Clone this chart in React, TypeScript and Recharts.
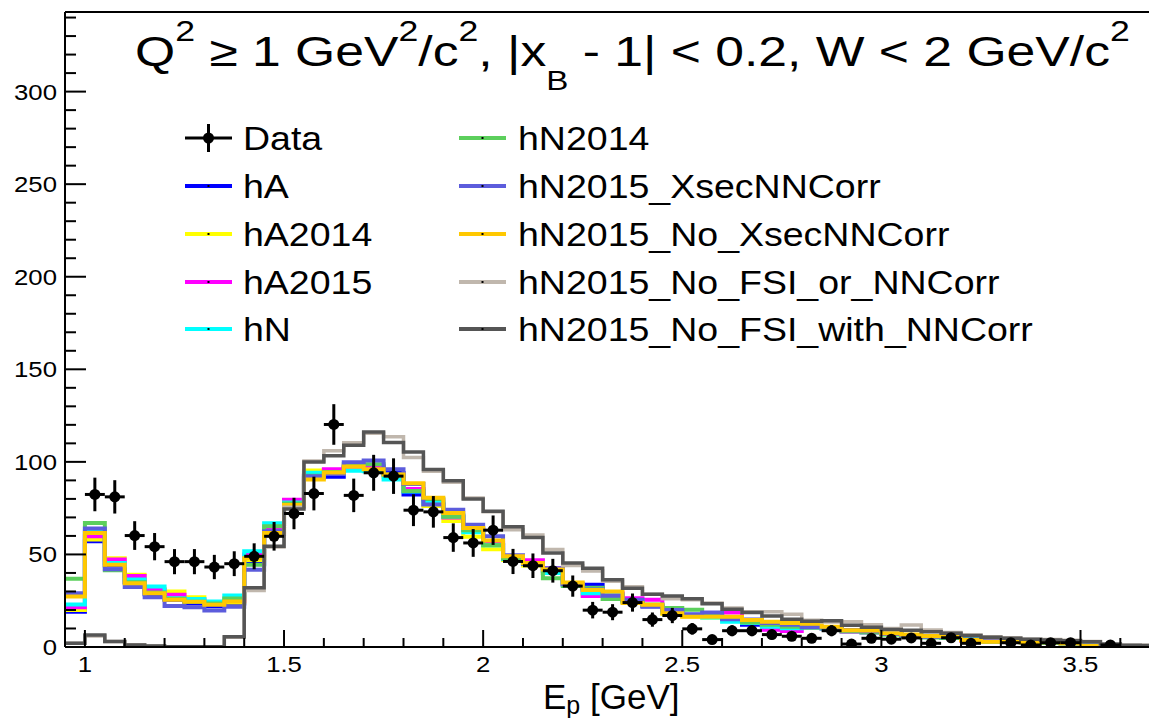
import React from 'react';
import {
  ComposedChart,
  ErrorBar,
  Legend,
  Line,
  ReferenceLine,
  Scatter,
  XAxis,
  YAxis,
} from 'recharts';

const FONT = '"Liberation Sans", Arial, Helvetica, sans-serif';
const TEXT_STRETCH = 1.12;

// 0.05 GeV bins, low edges plus the closing edge
const BIN_EDGES = [
  0.95, 1.0, 1.05, 1.1, 1.15, 1.2, 1.25, 1.3, 1.35, 1.4, 1.45, 1.5, 1.55, 1.6,
  1.65, 1.7, 1.75, 1.8, 1.85, 1.9, 1.95, 2.0, 2.05, 2.1, 2.15, 2.2, 2.25, 2.3,
  2.35, 2.4, 2.45, 2.5, 2.55, 2.6, 2.65, 2.7, 2.75, 2.8, 2.85, 2.9, 2.95, 3.0,
  3.05, 3.1, 3.15, 3.2, 3.25, 3.3, 3.35, 3.4, 3.45, 3.5, 3.55, 3.6, 3.65, 3.7,
];
const BIN_HALF_WIDTH = 0.025;

const X_MAX = 3.672;
const Y_MAX = 343;
const X_TICKS = [
  1.0, 1.1, 1.2, 1.3, 1.4, 1.5, 1.6, 1.7, 1.8, 1.9, 2.0, 2.1, 2.2, 2.3, 2.4,
  2.5, 2.6, 2.7, 2.8, 2.9, 3.0, 3.1, 3.2, 3.3, 3.4, 3.5, 3.6,
];
const Y_TICKS = [
  0, 10, 20, 30, 40, 50, 60, 70, 80, 90, 100, 110, 120, 130, 140, 150, 160,
  170, 180, 190, 200, 210, 220, 230, 240, 250, 260, 270, 280, 290, 300, 310,
  320, 330, 340,
];

// measured events, bin centres (empty bins left out)
const DATA_E = [
  1.025, 1.075, 1.125, 1.175, 1.225, 1.275, 1.325, 1.375, 1.425, 1.475, 1.525,
  1.575, 1.625, 1.675, 1.725, 1.775, 1.825, 1.875, 1.925, 1.975, 2.025, 2.075,
  2.125, 2.175, 2.225, 2.275, 2.325, 2.375, 2.425, 2.475, 2.525, 2.575, 2.625,
  2.675, 2.725, 2.775, 2.825, 2.875, 2.925, 2.975, 3.025, 3.075, 3.125, 3.175,
  3.225, 3.325, 3.375, 3.425, 3.475, 3.575,
];
const DATA_COUNTS = [
  82.4, 81.1, 60.2, 54.2, 46.1, 46.1, 43.2, 45.0, 49.0, 59.8, 72.1, 82.9, 120.2,
  81.9, 94.1, 92.3, 73.9, 73.0, 59.1, 56.2, 63.1, 46.2, 43.9, 41.2, 32.9, 19.9,
  18.8, 24.0, 14.8, 17.0, 9.8, 4.0, 8.8, 8.8, 6.7, 5.8, 4.7, 8.8, 1.6, 4.7, 4.2,
  4.9, 2.0, 5.0, 2.0, 2.3, 1.1, 2.3, 2.3, 1.1,
];

// GENIE predictions, one value per bin
const HA = [
  19.1, 57.1, 44.0, 35.0, 28.5, 25.5, 23.5, 22.0, 23.5, 45.0, 61.0, 76.0, 91.5,
  92.0, 96.5, 97.5, 94.0, 82.4, 77.0, 71.0, 64.0, 55.3, 48.0, 44.5, 41.0, 33.6,
  33.6, 28.5, 25.0, 22.0, 19.5, 17.5, 17.0, 15.5, 12.0, 12.0, 11.0, 11.0, 10.0,
  9.0, 8.0, 7.0, 6.0, 5.5, 5.0, 4.0, 3.5, 3.0, 2.8, 2.5, 2.0, 1.0, 0.6, 0.4, 0.3,
];
const HA2014 = [
  20.0, 58.0, 48.0, 39.0, 31.5, 30.0, 26.9, 24.0, 24.0, 47.0, 62.0, 77.5, 95.3,
  95.0, 97.0, 96.0, 92.0, 85.0, 76.1, 68.0, 59.6, 52.8, 47.0, 44.0, 40.0, 34.0,
  28.0, 27.5, 24.5, 22.5, 18.0, 16.5, 16.0, 15.0, 13.5, 12.0, 11.0, 10.5, 10.0,
  8.5, 8.0, 6.5, 6.0, 5.5, 5.0, 3.5, 3.0, 2.8, 2.4, 2.2, 1.8, 0.8, 0.5, 0.3, 0.2,
];
const HA2015 = [
  21.5, 59.8, 47.2, 38.3, 30.9, 28.2, 25.5, 23.5, 25.0, 50.0, 63.4, 79.5, 93.0,
  96.0, 97.5, 96.8, 93.0, 85.4, 79.3, 70.0, 63.0, 56.0, 48.5, 46.8, 42.5, 34.0,
  27.6, 29.0, 26.4, 25.5, 19.0, 17.0, 17.5, 18.6, 13.5, 9.3, 8.7, 11.0, 10.0,
  8.3, 8.0, 7.0, 6.0, 5.5, 5.5, 3.5, 3.0, 3.0, 2.5, 2.5, 2.0, 0.8, 0.5, 0.3, 0.2,
];
const HN = [
  23.0, 62.5, 45.4, 36.5, 32.7, 26.4, 25.9, 24.6, 27.8, 51.7, 66.8, 78.0, 94.1,
  93.5, 95.2, 95.0, 90.5, 84.0, 78.0, 70.5, 62.0, 55.0, 47.5, 45.0, 40.0, 33.5,
  29.0, 28.0, 25.0, 22.5, 19.0, 17.0, 16.0, 13.7, 13.0, 11.0, 10.1, 10.5, 10.0,
  8.5, 8.0, 6.8, 6.0, 5.5, 5.0, 4.5, 3.0, 2.8, 2.5, 2.4, 2.0, 0.8, 0.5, 0.3, 0.2,
];
const HN2014 = [
  36.9, 67.0, 41.5, 35.0, 29.5, 26.0, 24.5, 23.5, 26.2, 44.4, 65.2, 77.5, 92.5,
  94.5, 98.7, 98.7, 93.2, 84.3, 80.0, 70.4, 63.0, 55.0, 47.8, 45.0, 37.2, 33.0,
  32.0, 25.9, 24.5, 23.0, 21.0, 20.1, 17.0, 15.5, 13.2, 12.0, 11.0, 10.5, 10.5,
  8.5, 8.0, 7.0, 6.5, 5.1, 5.0, 4.0, 3.0, 2.8, 2.5, 2.4, 2.0, 0.8, 0.5, 0.3, 0.2,
];
const HN2015_XSEC = [
  29.1, 64.0, 42.0, 32.4, 26.9, 22.2, 21.5, 19.7, 21.8, 41.7, 62.5, 76.0, 92.2,
  93.5, 99.8, 100.8, 96.0, 88.0, 77.0, 74.2, 66.1, 59.8, 49.5, 45.0, 42.6, 34.0,
  31.0, 27.7, 25.5, 21.8, 20.0, 17.4, 18.6, 15.0, 14.8, 13.0, 12.0, 10.7, 10.5,
  9.0, 8.5, 7.0, 6.2, 5.5, 5.5, 4.0, 3.2, 3.0, 2.7, 2.9, 2.2, 0.8, 0.5, 0.3, 0.2,
];
const HN2015_NO_XSEC = [
  27.3, 61.6, 44.4, 34.5, 29.0, 25.5, 24.5, 22.8, 24.6, 48.0, 61.6, 76.7, 90.5,
  94.2, 97.5, 96.0, 93.2, 88.4, 80.6, 72.4, 64.3, 57.5, 49.0, 45.4, 41.8, 34.8,
  30.8, 30.0, 23.7, 22.8, 18.2, 16.4, 16.4, 16.4, 14.6, 13.7, 12.9, 12.5, 11.0,
  9.0, 8.9, 7.4, 6.7, 6.0, 6.0, 3.8, 2.9, 2.9, 2.5, 2.5, 2.0, 0.6, 0.4, 0.3, 0.2,
];
const HN2015_NO_FSI_OR = [
  2.0, 6.0, 3.0, 1.2, 0.6, 0.2, 0.2, 0.2, 5.2, 30.5, 54.0, 75.5, 100.5, 106.0,
  110.3, 115.4, 113.6, 102.3, 95.0, 89.0, 80.5, 73.0, 63.4, 60.5, 52.6, 44.0,
  41.0, 35.5, 32.5, 28.5, 26.0, 25.5, 23.8, 21.0, 19.0, 19.1, 17.7, 14.5, 13.5,
  13.7, 12.0, 10.0, 11.9, 9.2, 7.8, 6.5, 5.5, 5.0, 4.2, 4.0, 3.6, 3.0, 1.2, 1.0,
  1.0,
];
const HN2015_NO_FSI_WITH = [
  2.0, 6.5, 3.0, 1.1, 0.5, 0.2, 0.1, 0.1, 5.6, 32.0, 54.4, 74.6, 99.9, 103.3,
  109.0, 116.2, 110.4, 105.3, 95.9, 89.8, 79.9, 73.3, 65.0, 59.2, 50.8, 45.4,
  42.6, 36.3, 31.8, 28.5, 27.5, 26.0, 23.3, 20.4, 18.6, 16.8, 15.0, 13.9, 14.2,
  11.8, 10.7, 9.4, 9.0, 8.3, 7.4, 6.2, 5.2, 4.7, 4.2, 3.8, 3.4, 2.9, 1.6, 1.0,
  0.8,
];

const SERIES = [
  { key: 'hA', label: 'hA', color: '#0000ff', values: HA, width: 4 },
  { key: 'hA2014', label: 'hA2014', color: '#ffff00', values: HA2014, width: 4 },
  { key: 'hA2015', label: 'hA2015', color: '#ff00ff', values: HA2015, width: 4 },
  { key: 'hN', label: 'hN', color: '#00ffff', values: HN, width: 4 },
  { key: 'hN2014', label: 'hN2014', color: '#5ccf5c', values: HN2014, width: 4 },
  { key: 'xsec', label: 'hN2015_XsecNNCorr', color: '#5c5cdc', values: HN2015_XSEC, width: 4 },
  { key: 'noXsec', label: 'hN2015_No_XsecNNCorr', color: '#ffc800', values: HN2015_NO_XSEC, width: 4 },
  { key: 'noFsiOr', label: 'hN2015_No_FSI_or_NNCorr', color: '#c0b7ad', values: HN2015_NO_FSI_OR, width: 3.5 },
  { key: 'noFsiWith', label: 'hN2015_No_FSI_with_NNCorr', color: '#555555', values: HN2015_NO_FSI_WITH, width: 3.5 },
];

// step rows: each edge carries the content of the bin to its right
const histRows = BIN_EDGES.map((x, i) => {
  const row: Record<string, number> = { x };
  SERIES.forEach((s) => {
    row[s.key] = s.values[Math.min(i, s.values.length - 1)];
  });
  return row;
});

const dataPoints = DATA_E.map((x, i) => ({
  x,
  y: DATA_COUNTS[i],
  ex: BIN_HALF_WIDTH,
  ey: Math.sqrt(DATA_COUNTS[i]),
}));

function XTick(props: any) {
  const { x, y, payload } = props;
  const v = payload.value as number;
  const major = Math.abs(v * 2 - Math.round(v * 2)) < 1e-6;
  return (
    <g>
      <line x1={x} x2={x} y1={y} y2={y - (major ? 17 : 9)} stroke="#000" strokeWidth={2} />
      {major && (
        <text
          transform={`translate(${x},${y + 25}) scale(${TEXT_STRETCH},1)`}
          textAnchor="middle"
          fontSize={23}
          fontFamily={FONT}
          fill="#000"
        >
          {String(v)}
        </text>
      )}
    </g>
  );
}

function YTick(props: any) {
  const { x, y, payload } = props;
  const v = payload.value as number;
  const major = v % 50 === 0;
  return (
    <g>
      <line x1={x} x2={x + (major ? 21 : 11)} y1={y} y2={y} stroke="#000" strokeWidth={2} />
      {major && (
        <text
          transform={`translate(${x - 8},${y + 8}) scale(${TEXT_STRETCH},1)`}
          textAnchor="end"
          fontSize={23}
          fontFamily={FONT}
          fill="#000"
        >
          {String(v)}
        </text>
      )}
    </g>
  );
}

function DataMarker(props: any) {
  const { cx, cy } = props;
  if (cx == null || cy == null) return null;
  return <circle cx={cx} cy={cy} r={5.5} fill="#000" />;
}

const LEGEND_ROWS = [138, 186, 234, 282, 329];
const LEGEND_COLS = [
  { line: 185, text: 243 },
  { line: 459, text: 518 },
];

function LegendBox() {
  const entries = [{ label: 'Data', color: '#000', data: true }, ...SERIES.map((s) => ({ label: s.label, color: s.color, data: false }))];
  return (
    <svg width={1149} height={360} style={{ display: 'block' }}>
      {entries.map((e, i) => {
        const col = LEGEND_COLS[Math.floor(i / 5)];
        const y = LEGEND_ROWS[i % 5];
        const mid = col.line + 23.5;
        return (
          <g key={e.label}>
            <line x1={col.line} x2={col.line + 47} y1={y} y2={y} stroke={e.color} strokeWidth={e.data ? 3 : 4} />
            {e.data ? (
              <>
                <line x1={mid} x2={mid} y1={y - 14} y2={y + 14} stroke="#000" strokeWidth={3} />
                <circle cx={mid} cy={y} r={5.5} fill="#000" />
              </>
            ) : (
              <rect x={mid - 1} y={y - 1} width={2} height={2} fill="#000" />
            )}
            <text
              transform={`translate(${col.text},${y + 12}) scale(${TEXT_STRETCH},1)`}
              fontSize={33.5}
              fontFamily={FONT}
              fill="#000"
            >
              {e.label}
            </text>
          </g>
        );
      })}
    </svg>
  );
}

export default function App() {
  return (
    <div style={{ position: 'absolute', left: 0, top: 0, width: 1149, height: 718, background: '#fff' }}>
      <ComposedChart width={1149} height={718} data={histRows} margin={{ top: 12, right: 0, bottom: 0, left: 0 }}>
        <XAxis
          dataKey="x"
          type="number"
          domain={[0.95, X_MAX]}
          allowDataOverflow
          ticks={X_TICKS}
          interval={0}
          tick={XTick}
          tickLine={false}
          tickSize={0}
          tickMargin={0}
          height={71}
          axisLine={{ stroke: '#000', strokeWidth: 2 }}
        />
        <YAxis
          type="number"
          domain={[0, Y_MAX]}
          allowDataOverflow
          ticks={Y_TICKS}
          interval={0}
          tick={YTick}
          tickLine={false}
          tickSize={0}
          tickMargin={0}
          width={65}
          axisLine={{ stroke: '#000', strokeWidth: 2 }}
        />
        <ReferenceLine y={Y_MAX} stroke="#000" strokeWidth={2} />
        {SERIES.map((s) => (
          <Line
            key={s.key}
            dataKey={s.key}
            name={s.label}
            type="stepAfter"
            stroke={s.color}
            strokeWidth={s.width}
            dot={false}
            activeDot={false}
            isAnimationActive={false}
          />
        ))}
        <Scatter data={dataPoints} dataKey="y" name="Data" shape={DataMarker} isAnimationActive={false}>
          <ErrorBar dataKey="ey" direction="y" width={0} strokeWidth={3} stroke="#000" />
          <ErrorBar dataKey="ex" direction="x" width={0} strokeWidth={3} stroke="#000" />
        </Scatter>
        <Legend
          layout="horizontal"
          verticalAlign="middle"
          align="center"
          wrapperStyle={{ left: 0, top: 0, width: 1149, height: 360 }}
          content={() => <LegendBox />}
        />
        <g transform={`translate(135,66) scale(1.23,1)`}>
          <text fontSize={42} fontFamily={FONT} fill="#000">
            Q<tspan fontSize={29} dy={-25}>2</tspan>
            <tspan dy={25}> ≥ 1 GeV</tspan>
            <tspan fontSize={29} dy={-25}>2</tspan>
            <tspan dy={25}>/c</tspan>
            <tspan fontSize={29} dy={-25}>2</tspan>
            <tspan dy={25}>, |x</tspan>
            <tspan fontSize={27} dy={24}>B</tspan>
            <tspan dy={-24}> - 1| &lt; 0.2, W &lt; 2 GeV/c</tspan>
            <tspan fontSize={29} dy={-25}>2</tspan>
          </text>
        </g>
        <text transform="translate(543,709)" fontSize={35} fontFamily={FONT} fill="#000">
          E<tspan fontSize={25} dy={5}>p</tspan>
          <tspan dy={-5}> [GeV]</tspan>
        </text>
      </ComposedChart>
    </div>
  );
}
